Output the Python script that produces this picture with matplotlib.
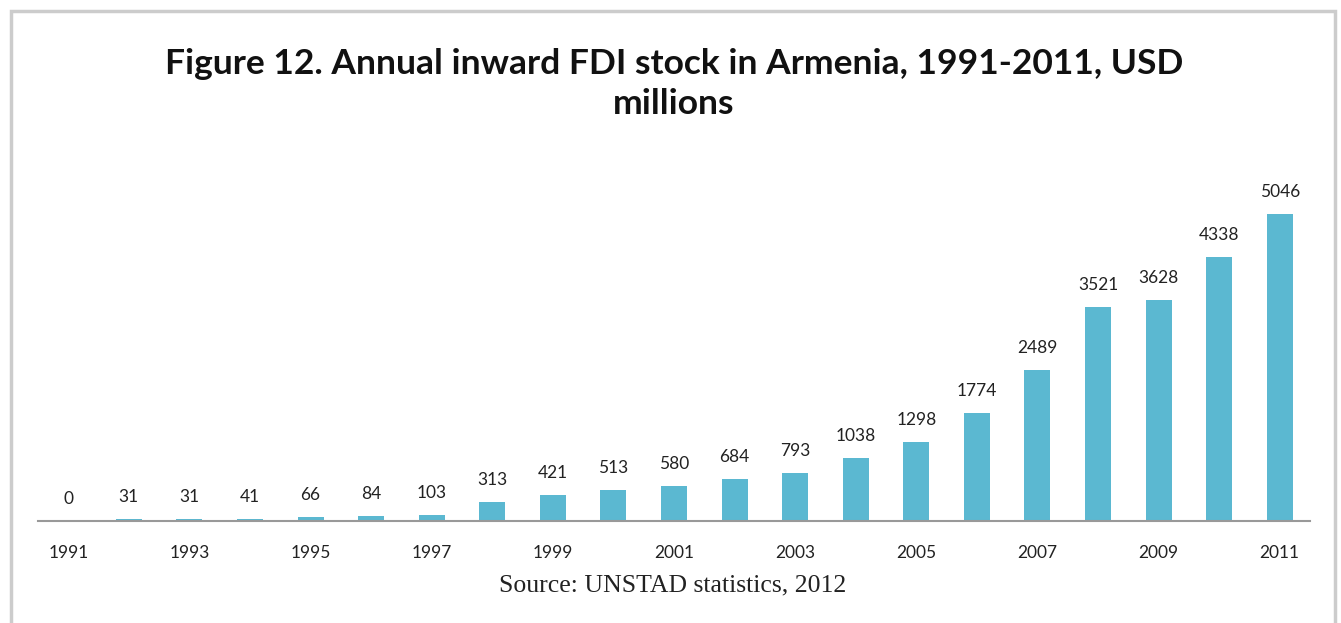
import matplotlib.pyplot as plt
from matplotlib.patches import Rectangle

# Annual inward FDI stock in Armenia, USD millions
years = [str(y) for y in range(1991, 2012)]
fdi_stock = [0, 31, 31, 41, 66, 84, 103, 313, 421, 513, 580, 684, 793,
             1038, 1298, 1774, 2489, 3521, 3628, 4338, 5046]

W, H = 1341, 623
fig = plt.figure(figsize=(W / 100, H / 100), dpi=100)

# gray frame around the chart (bottom edge is cut off in the source)
frame = Rectangle((11 / W, -0.05), (1335 - 11) / W, 1.05 - 11 / H,
                  transform=fig.transFigure, fill=False,
                  edgecolor='#cccccc', linewidth=2.5)
fig.patches.append(frame)

# axes: baseline at y=521px, x range 38..1310px
ax = fig.add_axes([38 / W, (H - 521) / H, (1310 - 38) / W, (521 - 181) / H])
x = list(range(len(years)))
ax.bar(x, fdi_stock, width=0.43, color='#5bb8d1')
ax.set_xlim(-0.5, len(years) - 0.5)
ax.set_ylim(0, 5046 * (521 - 181) / 307)

for xi, v in zip(x, fdi_stock):
    ax.annotate(str(v), (xi, v), xytext=(0, 10), textcoords='offset points',
                ha='center', va='bottom', fontsize=12.5, family='Lato',
                color='#222222')

for s in ['top', 'right', 'left']:
    ax.spines[s].set_visible(False)
ax.spines['bottom'].set_color('#999999')
ax.spines['bottom'].set_linewidth(1.5)
ax.set_yticks([])
ax.set_xticks(x[::2])
ax.set_xticklabels(years[::2], fontsize=12.5, family='Lato', color='#222222')
ax.tick_params(axis='x', length=0, pad=17)

fig.text(674 / W, 1 - 84 / H,
         'Figure 12. Annual inward FDI stock in Armenia, 1991-2011, USD\nmillions',
         ha='center', va='center', fontsize=25.5, fontweight='bold',
         family='Lato', linespacing=1.3, color='#111111')

fig.text(673 / W, 1 - 585 / H, 'Source: UNSTAD statistics, 2012',
         ha='center', va='center', fontsize=18.5, family='Liberation Serif',
         color='#222222')

fig.savefig('out.png', dpi=100)
